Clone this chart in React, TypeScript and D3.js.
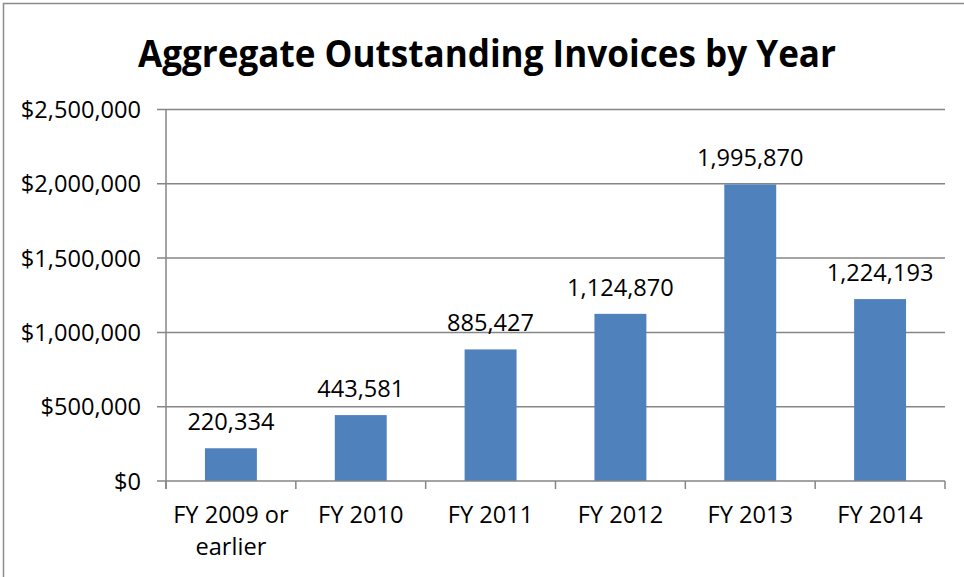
import * as d3 from "d3";

const WIDTH = 964;
const HEIGHT = 577;
const MARGIN = { top: 109.5, right: 19, bottom: 96, left: 166 };
const PLOT_WIDTH = WIDTH - MARGIN.left - MARGIN.right;
const PLOT_HEIGHT = HEIGHT - MARGIN.top - MARGIN.bottom;
const AXIS_COLOR = "#868686";
const BAR_COLOR = "#4f81bd";
const FONT = "'Open Sans', 'Noto Sans', sans-serif";

const categories = ["FY 2009 or earlier", "FY 2010", "FY 2011", "FY 2012", "FY 2013", "FY 2014"];
const categoryLines = [["FY 2009 or", "earlier"], ["FY 2010"], ["FY 2011"], ["FY 2012"], ["FY 2013"], ["FY 2014"]];
const values = [220334, 443581, 885427, 1124870, 1995870, 1224193];
const yTicks = [0, 500000, 1000000, 1500000, 2000000, 2500000];

export default function App() {
  const x = d3.scaleBand<string>().domain(categories).range([0, PLOT_WIDTH]).paddingInner(0.6).paddingOuter(0.3);
  const y = d3.scaleLinear().domain([0, 2500000]).range([PLOT_HEIGHT, 0]);
  const step = x.step();
  const money = d3.format("$,");
  const num = d3.format(",");

  return (
    <svg width={WIDTH} height={HEIGHT} style={{ position: "absolute", left: 0, top: 0, background: "#fff" }} fontFamily={FONT}>
      <rect x="3.5" y="3.5" width={WIDTH} height={HEIGHT} fill="#fff" stroke="#8c8c8c" strokeWidth="1.5" />
      <text x={487} y={67} textAnchor="middle" fontSize="37" fontWeight="700" fill="#000" textLength={698} lengthAdjust="spacingAndGlyphs">
        Aggregate Outstanding Invoices by Year
      </text>
      <g transform={`translate(${MARGIN.left} ${MARGIN.top})`}>
        {yTicks.map((tick) => (
          <g key={tick} transform={`translate(0 ${y(tick)})`}>
            <line x1={-9} x2={tick === 0 ? 0 : PLOT_WIDTH} stroke={AXIS_COLOR} strokeWidth="1.5" />
            <text x={-25} dy="0.36em" textAnchor="end" fontSize="23.6" fill="#000">
              {money(tick)}
            </text>
          </g>
        ))}
        {values.map((value, index) => {
          const key = categories[index];
          const bx = x(key) ?? 0;
          return (
            <g key={key}>
              <rect x={bx} y={y(value)} width={x.bandwidth()} height={PLOT_HEIGHT - y(value)} fill={BAR_COLOR} />
              <text x={bx + x.bandwidth() / 2} y={y(value) - 18} textAnchor="middle" fontSize="23.6" fill="#000">
                {num(value)}
              </text>
            </g>
          );
        })}
        <line x1={0} x2={PLOT_WIDTH} y1={PLOT_HEIGHT} y2={PLOT_HEIGHT} stroke={AXIS_COLOR} strokeWidth="1.5" />
        <line x1={0} x2={0} y1={0} y2={PLOT_HEIGHT + 8} stroke={AXIS_COLOR} strokeWidth="1.5" />
        {d3.range(categories.length + 1).map((i) => (
          <line key={i} x1={i * step} x2={i * step} y1={PLOT_HEIGHT} y2={PLOT_HEIGHT + 8} stroke={AXIS_COLOR} strokeWidth="1.5" />
        ))}
        {categoryLines.map((lines, index) => (
          <text key={index} x={(x(categories[index]) ?? 0) + x.bandwidth() / 2} y={PLOT_HEIGHT + 42} textAnchor="middle" fontSize="23.6" fill="#000">
            {lines.map((line, li) => (
              <tspan key={li} x={(x(categories[index]) ?? 0) + x.bandwidth() / 2} dy={li === 0 ? 0 : 32}>
                {line}
              </tspan>
            ))}
          </text>
        ))}
      </g>
    </svg>
  );
}
